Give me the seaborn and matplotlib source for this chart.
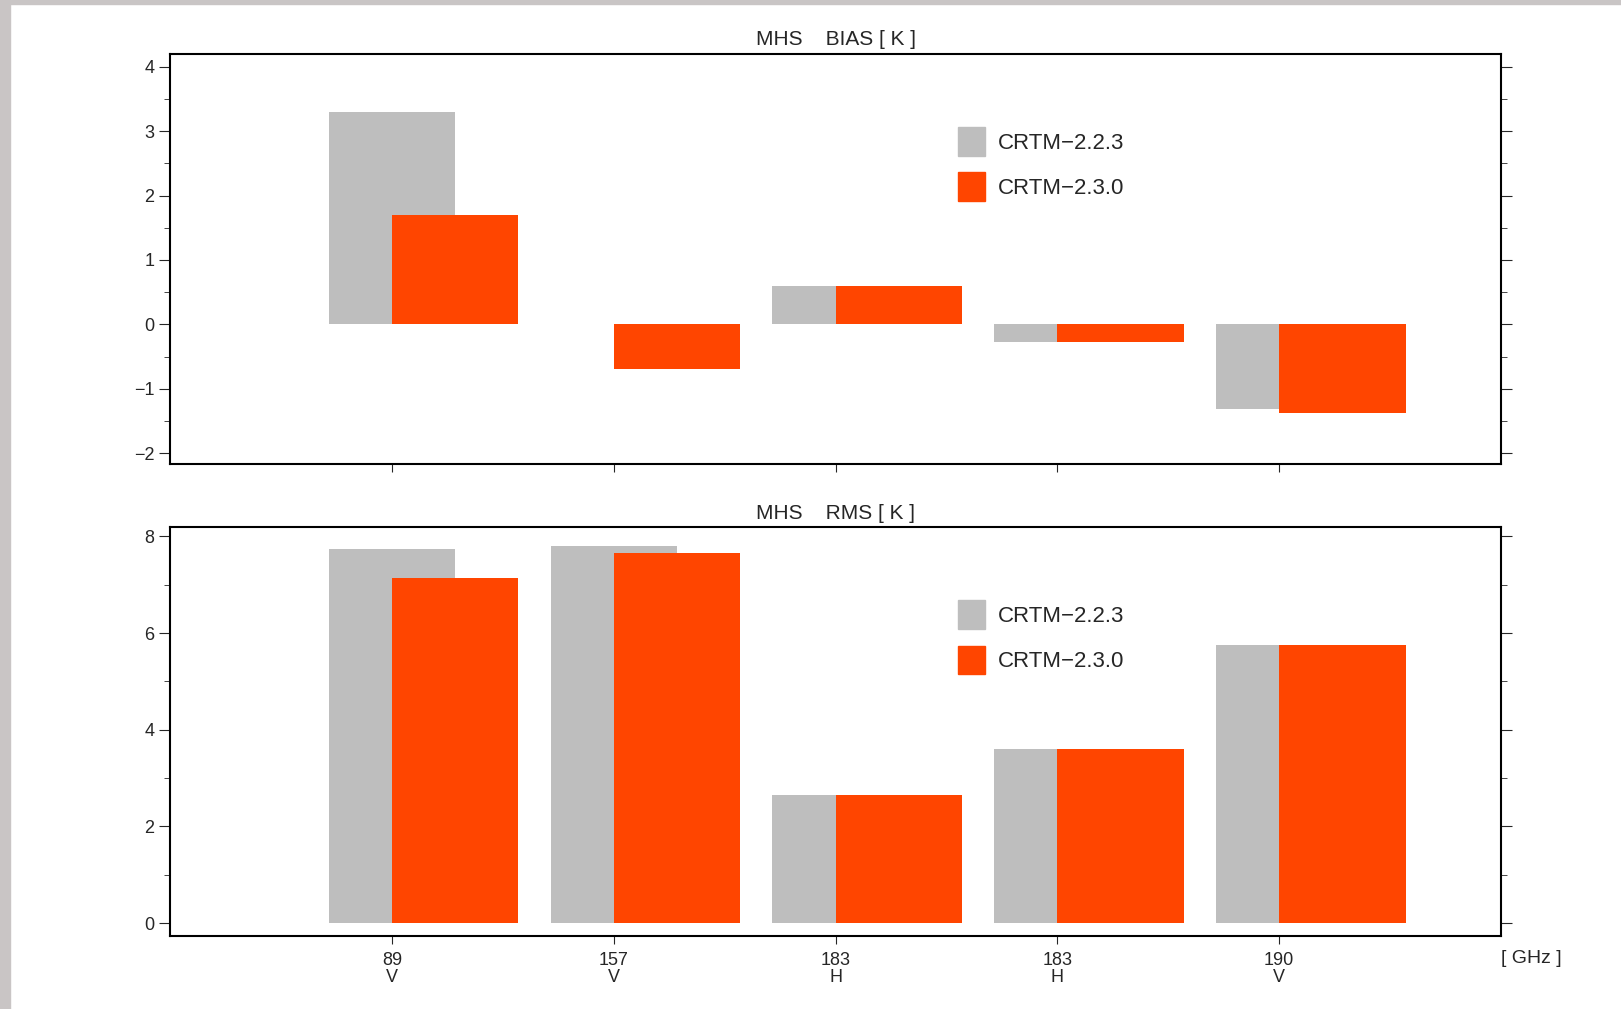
import matplotlib.pyplot as plt
import seaborn as sns
import numpy as np
from matplotlib.patches import Patch, Rectangle
from matplotlib.ticker import MultipleLocator

sns.set_style("white")
plt.rcParams['font.family'] = ['Liberation Sans', 'DejaVu Sans']

channels = ["89\nV", "157\nV", "183\nH", "183\nH", "190\nV"]
bias_223 = [3.3, 0.0, 0.6, -0.28, -1.32]
bias_230 = [1.7, -0.7, 0.6, -0.28, -1.37]
rms_223 = [7.75, 7.8, 2.65, 3.6, 5.75]
rms_230 = [7.15, 7.65, 2.65, 3.6, 5.75]

gray = "#bebebe"
orange = "#ff4500"
pos = np.arange(1, 6)

fig = plt.figure(figsize=(16.21, 10.09), dpi=100)
fig.patches.append(Rectangle((0, 0), 0.0064, 1, transform=fig.transFigure, color="#c9c5c5", zorder=0))
fig.patches.append(Rectangle((0, 0.996), 1, 0.004, transform=fig.transFigure, color="#c9c5c5", zorder=0))

ax1 = fig.add_axes([0.105, 0.54, 0.821, 0.4067])
ax2 = fig.add_axes([0.105, 0.0727, 0.821, 0.4047])


def draw(ax, v1, v2, title, ylim, major, minor):
    sns.barplot(x=pos, y=v1, native_scale=True, width=0.57, color=gray, saturation=1,
                linewidth=0, ax=ax)
    sns.barplot(x=pos + 0.285, y=v2, native_scale=True, width=0.57, color=orange, saturation=1,
                linewidth=0, ax=ax)
    ax.set_xlim(0, 6)
    ax.set_ylim(*ylim)
    ax.set_title("MHS    " + title, fontsize=15, pad=6)
    ax.yaxis.set_major_locator(MultipleLocator(major))
    ax.yaxis.set_minor_locator(MultipleLocator(minor))
    ax.set_xticks(pos)
    ax.tick_params(axis="y", which="both", direction="out", left=True, right=True,
                   labelsize=13, length=8)
    ax.tick_params(axis="y", which="minor", length=4)
    ax.tick_params(axis="x", direction="out", bottom=True, length=6, labelsize=13, pad=6)
    for s in ax.spines.values():
        s.set_linewidth(1.5)
        s.set_color("black")
    ax.set_xlabel("")
    ax.set_ylabel("")
    ax.legend(handles=[Patch(color=gray, label="CRTM\u22122.2.3"),
                       Patch(color=orange, label="CRTM\u22122.3.0")],
              loc="upper left", bbox_to_anchor=(0.577, 0.87), frameon=False,
              fontsize=16, handlelength=1.2, handleheight=1.6, labelspacing=0.75,
              handletextpad=0.6)


draw(ax1, bias_223, bias_230, "BIAS [ K ]", (-2.17, 4.2), 1, 0.5)
ax1.set_xticklabels([])
draw(ax2, rms_223, rms_230, "RMS [ K ]", (-0.26, 8.19), 2, 1)
ax2.set_xticklabels(channels, linespacing=1.0)
ax2.text(6.0, -0.55, "[ GHz ]", fontsize=14, va="top", ha="left")

fig.savefig("out.png", dpi=100)
